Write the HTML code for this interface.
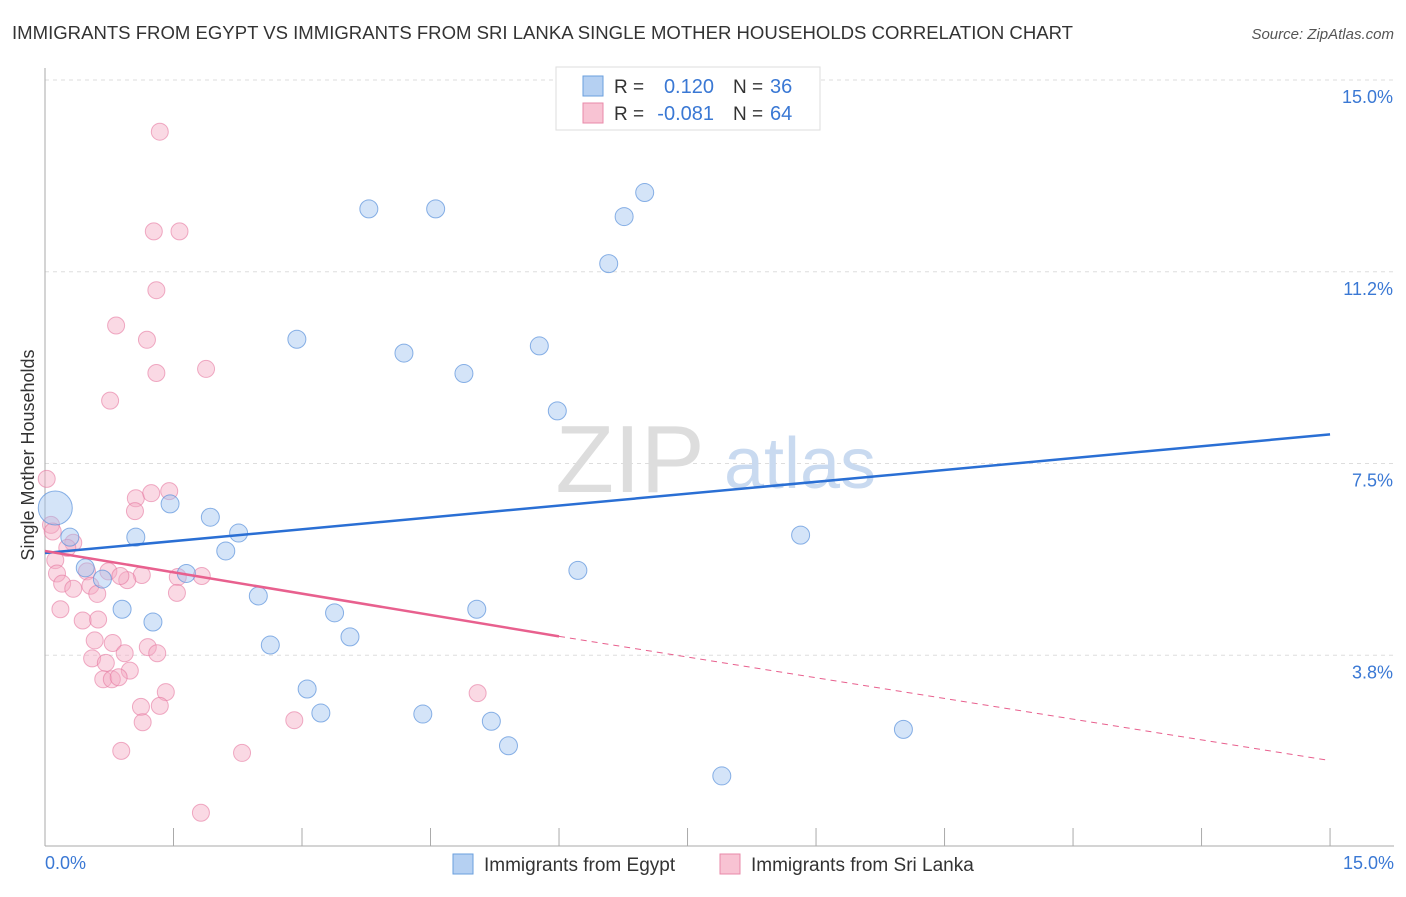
<!DOCTYPE html>
<html><head><meta charset="utf-8"><style>
body{margin:0;background:#fff;font-family:"Liberation Sans",sans-serif}
svg text{font-family:"Liberation Sans",sans-serif}
</style></head><body>
<svg width="1406" height="892">
<text x="12" y="39" font-size="18" fill="#333" textLength="1061" lengthAdjust="spacingAndGlyphs">IMMIGRANTS FROM EGYPT VS IMMIGRANTS FROM SRI LANKA SINGLE MOTHER HOUSEHOLDS CORRELATION CHART</text>
<text x="1394" y="39" font-size="15" fill="#555" font-style="italic" text-anchor="end">Source: ZipAtlas.com</text>
<g id="grid"></g>
<text x="630" y="492" font-size="96" fill="#ddd" font-family="Liberation Serif" text-anchor="middle">ZIP</text>
<text x="800" y="488" font-size="72" fill="#c9daf0" text-anchor="middle">atlas</text>
<g id="pts"></g>
<g id="lines"></g>
<text transform="translate(34,455) rotate(-90)" font-size="18" fill="#333" text-anchor="middle">Single Mother Households</text>
<text x="45" y="869" font-size="18" fill="#3a78d4">0.0%</text>
<text x="1394" y="869" font-size="18" fill="#3a78d4" text-anchor="end">15.0%</text>
<g>
<rect x="556" y="67" width="264" height="63" fill="#fff" stroke="#ddd"/>
<rect x="583" y="76" width="20" height="20" fill="#b5d0f2" stroke="#6a9fde"/>
<rect x="583" y="103" width="20" height="20" fill="#f8c3d3" stroke="#e88aa8"/>
<text x="614" y="93" font-size="19" fill="#333">R =</text>
<text x="714" y="93" font-size="20" fill="#3a78d4" text-anchor="end">0.120</text>
<text x="733" y="93" font-size="19" fill="#333">N =</text>
<text x="770" y="93" font-size="20" fill="#3a78d4">36</text>
<text x="614" y="120" font-size="19" fill="#333">R =</text>
<text x="714" y="120" font-size="20" fill="#3a78d4" text-anchor="end">-0.081</text>
<text x="733" y="120" font-size="19" fill="#333">N =</text>
<text x="770" y="120" font-size="20" fill="#3a78d4">64</text>
</g>
<g>
<rect x="453" y="854" width="20" height="20" fill="#b5d0f2" stroke="#6a9fde"/>
<text x="484" y="871" font-size="19" fill="#333">Immigrants from Egypt</text>
<rect x="720" y="854" width="20" height="20" fill="#f8c3d3" stroke="#e88aa8"/>
<text x="751" y="871" font-size="19" fill="#333">Immigrants from Sri Lanka</text>
</g>
</svg>
<script>
const yTicks=[15.0,11.25,7.5,3.75];
const yTickLabels=["15.0%","11.2%","7.5%","3.8%"];
const xTicks=[0,1.5,3,4.5,6,7.5,9,10.5,12,13.5,15];
const egyptX=[0.12,0.29,1.06,1.46,1.93,2.26,2.11,1.65,0.67,0.47,2.49,0.9,1.26,2.94,3.78,4.56,4.19,4.89,5.77,5.98,6.58,6.76,7.0,3.38,3.56,2.63,3.06,3.22,4.41,5.21,5.41,5.04,6.22,7.9,8.82,10.02];
const egyptY=[6.63,6.06,6.06,6.71,6.45,6.14,5.79,5.35,5.24,5.46,4.91,4.65,4.4,9.93,12.48,12.48,9.66,9.26,9.8,8.53,11.41,12.33,12.8,4.58,4.11,3.95,3.09,2.62,2.6,2.46,1.98,4.65,5.41,1.39,6.1,2.3];
const lankaX=[0.02,0.07,0.09,1.06,1.05,1.24,1.45,0.33,0.26,0.12,0.49,0.74,1.13,0.96,0.14,0.2,0.33,0.53,0.61,1.83,1.55,1.54,0.18,0.44,0.62,0.58,0.79,0.93,1.2,1.31,0.55,0.71,0.99,0.68,0.78,0.86,1.41,1.12,1.34,1.14,0.89,2.3,1.82,1.34,1.27,1.57,1.3,1.19,0.83,1.88,0.76,1.3,5.05,2.91,0.88];
const lankaY=[7.2,6.3,6.17,6.82,6.57,6.92,6.96,5.95,5.85,5.61,5.39,5.39,5.32,5.22,5.35,5.15,5.05,5.11,4.95,5.3,5.28,4.97,4.65,4.43,4.45,4.04,3.99,3.79,3.91,3.79,3.69,3.6,3.45,3.28,3.28,3.32,3.03,2.74,2.76,2.44,1.88,1.84,0.67,13.99,12.04,12.04,10.89,9.92,10.2,9.35,8.73,9.27,3.01,2.48,5.3];
const egyptR=[17].concat(Array(35).fill(9));
const X=v=>45+v*85.67, Y=v=>847-v*51.13;
const ns="http://www.w3.org/2000/svg";
const grid=document.getElementById('grid');
function mk(t,a,p){const e=document.createElementNS(ns,t);for(const k in a)e.setAttribute(k,a[k]);p.appendChild(e);return e;}
yTicks.forEach((v,i)=>{
 const l=mk('line',{x1:45,x2:1394,y1:Y(v),y2:Y(v),stroke:'#ddd','stroke-dasharray':'4,4'},grid);
 
 
 const t=mk('text',{x:1393,y:Y(v)+23,'font-size':18,fill:'#3a78d4','text-anchor':'end'},grid);
 t.textContent=yTickLabels[i];
 
 
});
const ax=mk('line',{x1:45,x2:45,y1:68,y2:846,stroke:'#aaa'},grid);


const bx=mk('line',{x1:45,x2:1394,y1:846,y2:846,stroke:'#aaa'},grid);


xTicks.forEach(v=>{
 const t=mk('line',{x1:X(v),x2:X(v),y1:828,y2:846,stroke:'#aaa'},grid);
 
 
});
const pts=document.getElementById('pts');
lankaX.forEach((v,i)=>{
 const c=mk('circle',{cx:X(v),cy:Y(lankaY[i]),r:8.5,fill:'rgba(245,170,195,0.45)',stroke:'rgba(230,120,160,0.6)'},pts);
 
 
});
egyptX.forEach((v,i)=>{
 const c=mk('circle',{cx:X(v),cy:Y(egyptY[i]),r:egyptR[i],fill:'rgba(160,195,240,0.45)',stroke:'rgba(90,145,220,0.7)'},pts);
 
 
});
const lines=document.getElementById('lines');
const b=mk('line',{x1:X(0),y1:Y(5.75),x2:X(15),y2:Y(8.07),stroke:'#2a6fd4','stroke-width':2.5},lines);


const p=mk('line',{x1:X(0),y1:Y(5.79),x2:X(6.0),y2:Y(4.12),stroke:'#e8608e','stroke-width':2.5},lines);


const pd=mk('line',{x1:X(6.0),y1:Y(4.12),x2:X(15),y2:Y(1.69),stroke:'#e8608e','stroke-width':1,'stroke-dasharray':'6,5'},lines);


</script>
</body></html>
